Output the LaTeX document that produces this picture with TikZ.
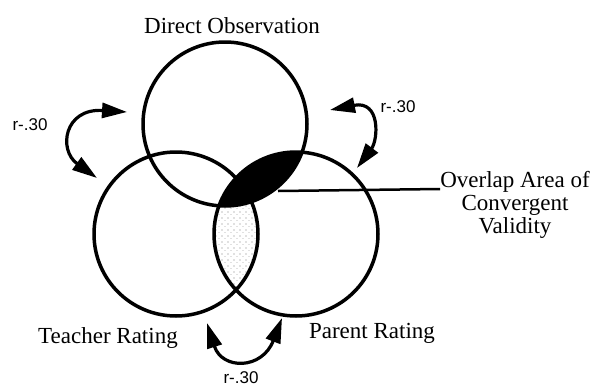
\documentclass[tikz,border=0pt]{standalone}
\usepackage{fontspec}
\setmainfont{Liberation Serif}
\newfontfamily\rfont{Liberation Sans}
\usetikzlibrary{arrows.meta,patterns}
\pgfdeclarepatternformonly{sparsedots}{\pgfqpoint{-1pt}{-1pt}}{\pgfqpoint{6pt}{6pt}}{\pgfqpoint{6pt}{6pt}}{%
  \pgfpathcircle{\pgfqpoint{0pt}{0pt}}{0.55pt}%
  \pgfpathcircle{\pgfqpoint{3pt}{3.5pt}}{0.45pt}%
  \pgfusepath{fill}}
\begin{document}
\begin{tikzpicture}[x=1pt,y=-1pt,
  ring/.style={draw=black, line width=3.5pt},
  lbl/.style={font=\fontsize{23}{23}\selectfont, inner sep=0pt},
  rlbl/.style={font=\rfont\fontsize{17}{17}\selectfont, inner sep=0pt},
  corr/.style={line width=3.2pt, {Triangle[length=25pt,width=15pt]}-{Triangle[length=25pt,width=15pt]}},
  pointer/.style={line width=2.5pt}]
\useasboundingbox[fill=white] (0,0) rectangle (600,386);
\coordinate (cT) at (225,124);
\coordinate (cL) at (176,234);
\coordinate (cR) at (296,234);
% stippled overlap of teacher and parent ratings
\begin{scope}
  \clip (cL) circle[radius=82pt];
  \fill[pattern=sparsedots, pattern color=gray] (cR) circle[radius=82pt];
\end{scope}
% black overlap area
\begin{scope}
  \clip (cT) circle[radius=82pt];
  \fill[black] (cR) circle[radius=82pt];
\end{scope}
% circles
\draw[ring] (cT) circle[radius=82pt];
\draw[ring] (cL) circle[radius=82pt];
\draw[ring] (cR) circle[radius=82pt];
% labels
\node[lbl, anchor=base] (do) at (232,33) {Direct Observation};
\node[lbl, anchor=base] (tr) at (108,343) {Teacher Rating};
\node[lbl, anchor=base] (pr) at (372,338) {Parent Rating};
\node[lbl, anchor=north, align=center] (ov) at (515,171) {Overlap Area of\\Convergent\\Validity};
% correlation labels
\node[rlbl, anchor=base] (r1) at (30,130) {r-.30};
\node[rlbl, anchor=base] (r2) at (398,112) {r-.30};
\node[rlbl, anchor=base] (r3) at (241,383) {r-.30};
% correlation arrows
\coordinate (a1) at (127,112);
\coordinate (a2) at (97,178);
\coordinate (a3) at (330,110);
\coordinate (a4) at (357,168);
\coordinate (a5) at (207,323);
\coordinate (a6) at (282,318);
\draw[corr] (a1) .. controls (64,108) and (58,150) .. (a2);
\draw[corr] (a3) .. controls (381,100) and (378,140) .. (a4);
\draw[corr] (a5) .. controls (222,370) and (262,370) .. (a6);
% pointer
\coordinate (blob) at (278,191);
\draw[pointer] (blob) -- ([yshift=-18pt]ov.north west);
\end{tikzpicture}
\end{document}
